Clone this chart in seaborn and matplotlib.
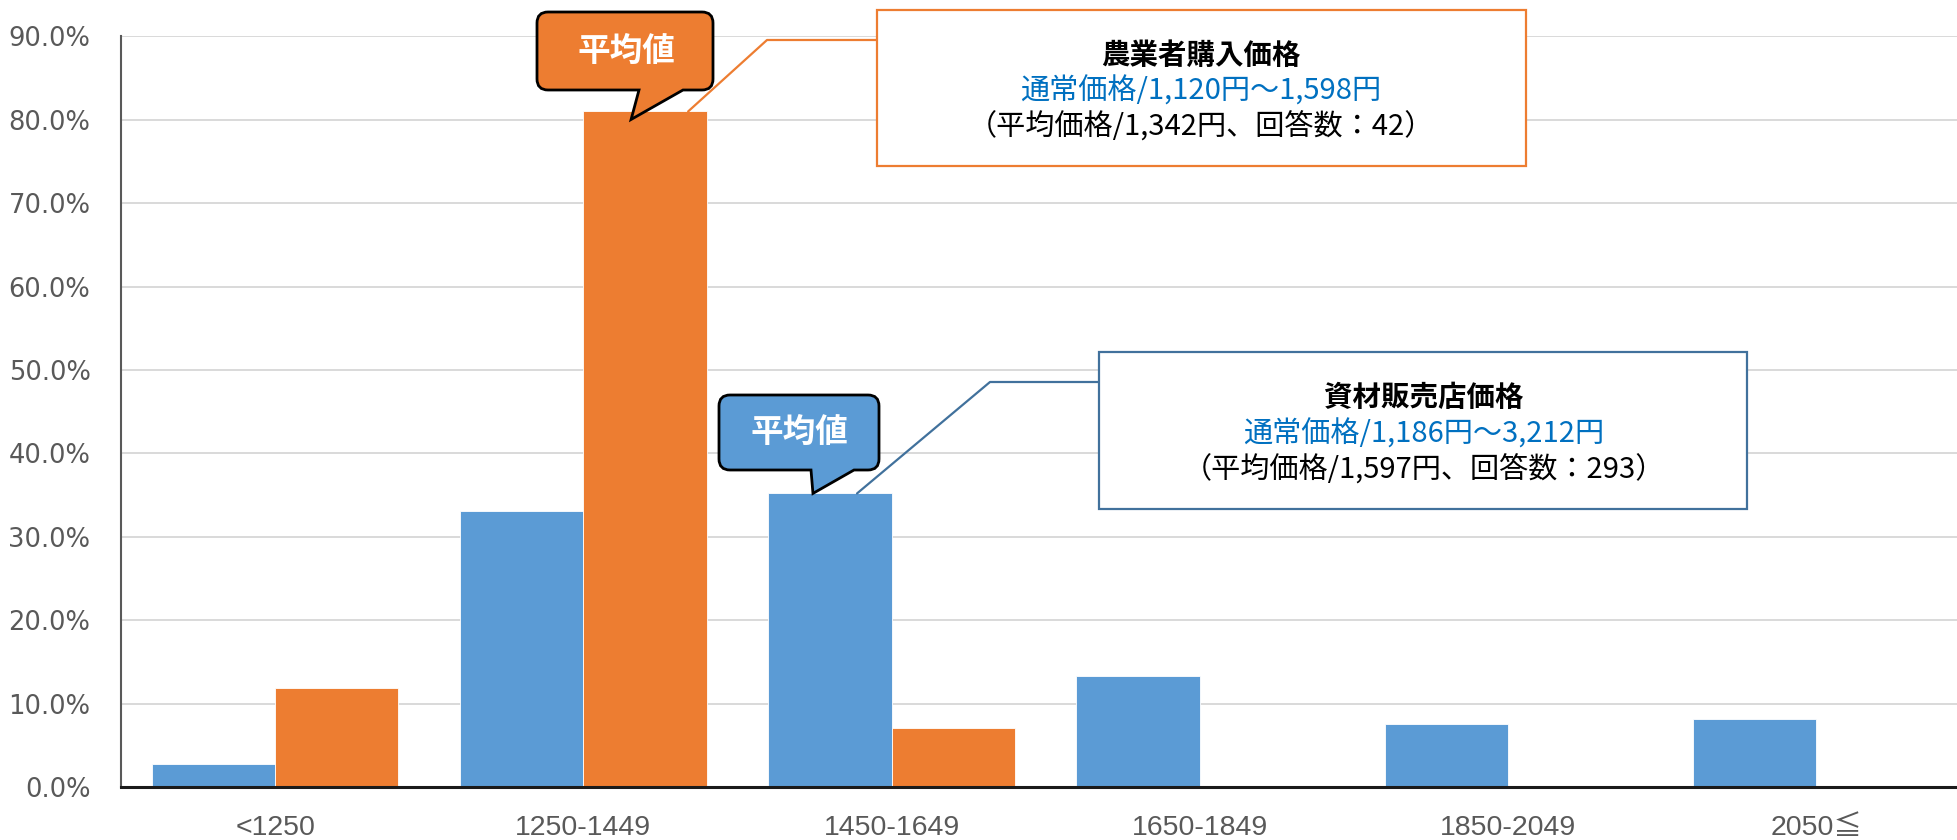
import matplotlib
matplotlib.use("Agg")
import matplotlib.pyplot as plt
from matplotlib.path import Path
from matplotlib.patches import PathPatch, Rectangle
from matplotlib.lines import Line2D
from matplotlib.transforms import IdentityTransform
from matplotlib.ticker import FuncFormatter
import pandas as pd
import seaborn as sns

# ---- data -------------------------------------------------------------
categories = ["<1250", "1250-1449", "1450-1649", "1650-1849", "1850-2049", "2050≦"]
series_names = ["資材販売店価格", "農業者購入価格"]
store_pct = [2.7, 33.1, 35.2, 13.3, 7.5, 8.2]      # 資材販売店価格 (n=293)
farmer_pct = [11.9, 81.0, 7.1, 0.0, 0.0, 0.0]     # 農業者購入価格 (n=42)
y_ticks = [0, 10, 20, 30, 40, 50, 60, 70, 80, 90]

farmer_title = "農業者購入価格"
farmer_range = "通常価格/1,120円～1,598円"
farmer_note = "（平均価格/1,342円、回答数：42）"
store_title = "資材販売店価格"
store_range = "通常価格/1,186円～3,212円"
store_note = "（平均価格/1,597円、回答数：293）"
mean_label = "平均値"

BLUE = "#5B9BD5"
ORANGE = "#ED7D31"
BLUE_LINE = "#41719C"
RANGE_BLUE = "#0070C0"
GREY = "#595959"

df = pd.DataFrame({
    "価格帯": categories * 2,
    "区分": [series_names[0]] * len(categories) + [series_names[1]] * len(categories),
    "割合": store_pct + farmer_pct,
})

sns.set_style("white")
plt.rcParams["font.family"] = ["DejaVu Sans", "Noto Sans CJK JP"]
CJK = ["Noto Sans CJK JP", "DejaVu Sans"]

W, H = 1958, 840
fig = plt.figure(figsize=(W / 100, H / 100), dpi=100)
ax = fig.add_axes([121 / W, 53 / H, (W - 121) / W, 750.6 / H])

sns.barplot(data=df, x="価格帯", y="割合", hue="区分", hue_order=series_names,
            palette=[BLUE, ORANGE], saturation=1, width=0.8, gap=0,
            edgecolor="white", linewidth=0.6, legend=False, ax=ax)

ax.set_xlim(-0.5, 5.46)
ax.set_ylim(0, 90)
ax.set_yticks(y_ticks)
ax.yaxis.set_major_formatter(FuncFormatter(lambda v, _: f"{v:.1f}%"))
ax.set_xlabel("")
ax.set_ylabel("")
ax.set_axisbelow(True)
ax.yaxis.grid(True, color="#D9D9D9", linewidth=1.4)
ax.xaxis.grid(False)
for s in ("top", "right"):
    ax.spines[s].set_visible(False)
ax.spines["left"].set_color(GREY)
ax.spines["left"].set_linewidth(1.5)
ax.spines["bottom"].set_color("#1a1a1a")
ax.spines["bottom"].set_linewidth(2.2)
ax.tick_params(axis="both", length=0)
ax.tick_params(axis="y", pad=22, labelsize=18.5, labelcolor=GREY)
ax.tick_params(axis="x", pad=20, labelcolor=GREY)
for lab in ax.get_xticklabels():
    lab.set_fontfamily(["Liberation Sans", "Noto Sans CJK JP"])
    lab.set_fontsize(20.5)

# ---- annotation helpers (pixel coordinates measured from the top) -----
ident = IdentityTransform()


def disp(x, y_top):
    return (x, H - y_top)


def on_bar(x, y):
    return tuple(ax.transData.transform((x, y)))


def callout(x0, ytop, x1, ybot, bx0, bx1, tip, face, r=11):
    X0, Y0 = x0, H - ybot
    X1, Y1 = x1, H - ytop
    verts = [(X0 + r, Y0), (bx0, Y0), tip, (bx1, Y0), (X1 - r, Y0),
             (X1, Y0), (X1, Y0 + r), (X1, Y1 - r),
             (X1, Y1), (X1 - r, Y1), (X0 + r, Y1),
             (X0, Y1), (X0, Y1 - r), (X0, Y0 + r),
             (X0, Y0), (X0 + r, Y0), (X0 + r, Y0)]
    codes = [Path.MOVETO, Path.LINETO, Path.LINETO, Path.LINETO, Path.LINETO,
             Path.CURVE3, Path.CURVE3, Path.LINETO,
             Path.CURVE3, Path.CURVE3, Path.LINETO,
             Path.CURVE3, Path.CURVE3, Path.LINETO,
             Path.CURVE3, Path.CURVE3, Path.CLOSEPOLY]
    patch = PathPatch(Path(verts, codes), facecolor=face, edgecolor="black",
                      linewidth=2, transform=ident, zorder=6, clip_on=False)
    fig.add_artist(patch)


def info_box(x0, ytop, x1, ybot, edge):
    rect = Rectangle(disp(x0, ybot), x1 - x0, ybot - ytop, facecolor="white",
                     edgecolor=edge, linewidth=1.6, transform=ident,
                     zorder=6, clip_on=False)
    fig.add_artist(rect)


def leader(points, color):
    xs = [p[0] for p in points]
    ys = [p[1] for p in points]
    fig.add_artist(Line2D(xs, ys, color=color, linewidth=1.6,
                          transform=ident, zorder=5))


def ftext(x, y_top, s, **kw):
    fig.text(x / W, 1 - y_top / H, s, ha="center", va="center",
             family=CJK, zorder=7, **kw)


# 農業者購入価格: mean marker and description
tip1 = on_bar(1.155, farmer_pct[1])
tip1 = (tip1[0], tip1[1] - 8)
callout(537, 12, 713, 90, 639, 683, tip1, ORANGE)
ftext(626, 51, mean_label, color="white", fontsize=23.5, fontweight="bold")

start1 = on_bar(1.34, farmer_pct[1])
leader([start1, disp(767, 40), disp(877, 40)], ORANGE)
info_box(877, 10, 1526, 166, ORANGE)
ftext(1201, 56, farmer_title, color="black", fontsize=20.5, fontweight="bold")
ftext(1201, 91, farmer_range, color=RANGE_BLUE, fontsize=21)
ftext(1201, 127, farmer_note, color="black", fontsize=21)

# 資材販売店価格: mean marker and description
tip2 = on_bar(1.745, store_pct[2])
callout(719, 395, 879, 470, 811, 854, tip2, BLUE)
ftext(799, 432, mean_label, color="white", fontsize=23.5, fontweight="bold")

start2 = on_bar(1.888, store_pct[2])
leader([start2, disp(990, 382), disp(1099, 382)], BLUE_LINE)
info_box(1099, 352, 1747, 509, BLUE_LINE)
ftext(1424, 398, store_title, color="black", fontsize=20.5, fontweight="bold")
ftext(1424, 434, store_range, color=RANGE_BLUE, fontsize=21)
ftext(1424, 470, store_note, color="black", fontsize=21)

fig.savefig("out.png", dpi=100, facecolor="white")
